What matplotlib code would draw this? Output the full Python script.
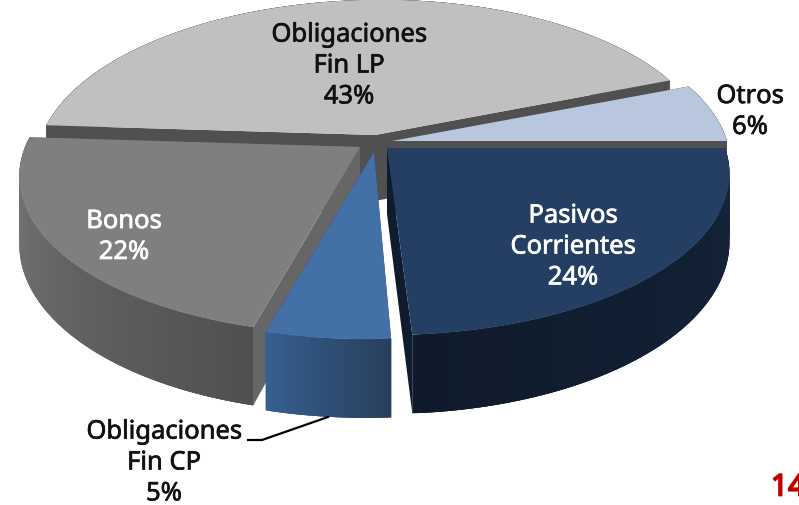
# -*- coding: utf-8 -*-
import numpy as np
import matplotlib
matplotlib.use("Agg")
import matplotlib.pyplot as plt
import matplotlib.patheffects as pe
from matplotlib.colors import to_rgb
from matplotlib.patches import Polygon

# --- data ---
names = ["Pasivos\nCorrientes", "Obligaciones\nFin CP", "Bonos", "Obligaciones\nFin LP", "Otros"]
values = [24, 5, 22, 43, 6]

# --- look of the slices (same order as values) ---
top_colors = ["#243f63", "#4470a8", "#7f7f7f", "#c0c0c0", "#b8c6de"]
wall_left = ["#0f1b2c", "#36608f", "#7a7a7a", "#505050", "#505050"]
wall_right = ["#15243a", "#273f5c", "#505050", "#505050", "#505050"]
side_colors = ["#0f1c2e", "#274468", "#666666", "#505050", "#505050"]
apex = [(387, 148), (374, 152), (360, 147), (375, 135), (392, 141)]
radius = [338, 340, 335, 333, 335]
skew = [0, 7, 7, 7, 7]
draw_order = [3, 4, 2, 0, 1]

# fake perspective of the tilted disc
PERSP = 0.161
SQUASH = 157
DEPTH = 66


def project(i, angle, drop=0.0):
    """Point on the rim of slice i, angle in degrees, drop=1 is the bottom face."""
    x = np.cos(np.radians(angle))
    y = np.sin(np.radians(angle))
    k = 1 + PERSP * y
    return (apex[i][0] + (radius[i] * x + skew[i] * y) / k,
            apex[i][1] - SQUASH * y / k + drop * DEPTH / k)


fig = plt.figure(figsize=(7.99, 5.05), dpi=100)
ax = fig.add_axes([0, 0, 1, 1])
ax.set_xlim(0, 799)
ax.set_ylim(505, 0)
ax.axis("off")

# slices run clockwise from 3 o'clock
edges = -np.cumsum([0] + values) * 3.6

z = 2.0
for i in draw_order:
    a0, a1 = edges[i], edges[i + 1]
    ang = np.linspace(a1, a0, 120)  # left to right on the near side
    ax0, ay0 = apex[i]
    low = ay0 + DEPTH

    # inner walls
    for a in (a0, a1):
        rim = project(i, a)
        rim_low = project(i, a, 1)
        ax.add_patch(Polygon([(ax0, ay0), rim, rim_low, (ax0, low)],
                             fc=side_colors[i], ec="none", zorder=z))
        z += 0.001

    # outer wall, strips overlap so no seams show through
    c0 = np.array(to_rgb(wall_left[i]))
    c1 = np.array(to_rgb(wall_right[i]))
    for j in range(len(ang) - 1):
        t = j / (len(ang) - 2)
        col = c0 + (c1 - c0) * t
        end = min(j + 3, len(ang) - 1)
        part = ang[j:end + 1]
        outline = [project(i, a) for a in part] + [project(i, a, 1) for a in part[::-1]]
        ax.add_patch(Polygon(outline, fc=col, ec="none", zorder=z))
        z += 0.001

    # top face
    rim = [project(i, a) for a in ang]
    ax.add_patch(Polygon([(ax0, ay0)] + rim, fc=top_colors[i], ec="none", zorder=z))
    z += 0.001

FONT = {"family": "Noto Sans", "fontsize": 18.4,
        "ha": "center", "va": "center", "linespacing": 1.31, "zorder": 50}


def label(x, y, i, color):
    # no heavy cut of the font here, so thicken with a thin stroke
    txt = f"{names[i]}\n{values[i]}%"
    ax.text(x, y, txt, color=color,
            path_effects=[pe.withStroke(linewidth=0.5, foreground=color)], **FONT)


label(349, 66, 3, "#111111")
label(750, 112, 4, "#111111")
label(573, 247, 0, "white")
label(124, 237, 2, "white")
label(164, 463, 1, "#111111")

# leader line for Fin CP
ax.plot([248, 262, 328], [440, 440, 417], color="black", lw=1.6, zorder=40)

# page number, cut by the slide edge as in the slide grab
ax.text(771, 488, "14", color="#c00000", fontsize=21.5, family="Noto Sans",
        ha="left", va="center", clip_on=False,
        path_effects=[pe.withStroke(linewidth=1.3, foreground="#c00000")])

fig.savefig("out.png", dpi=100)
